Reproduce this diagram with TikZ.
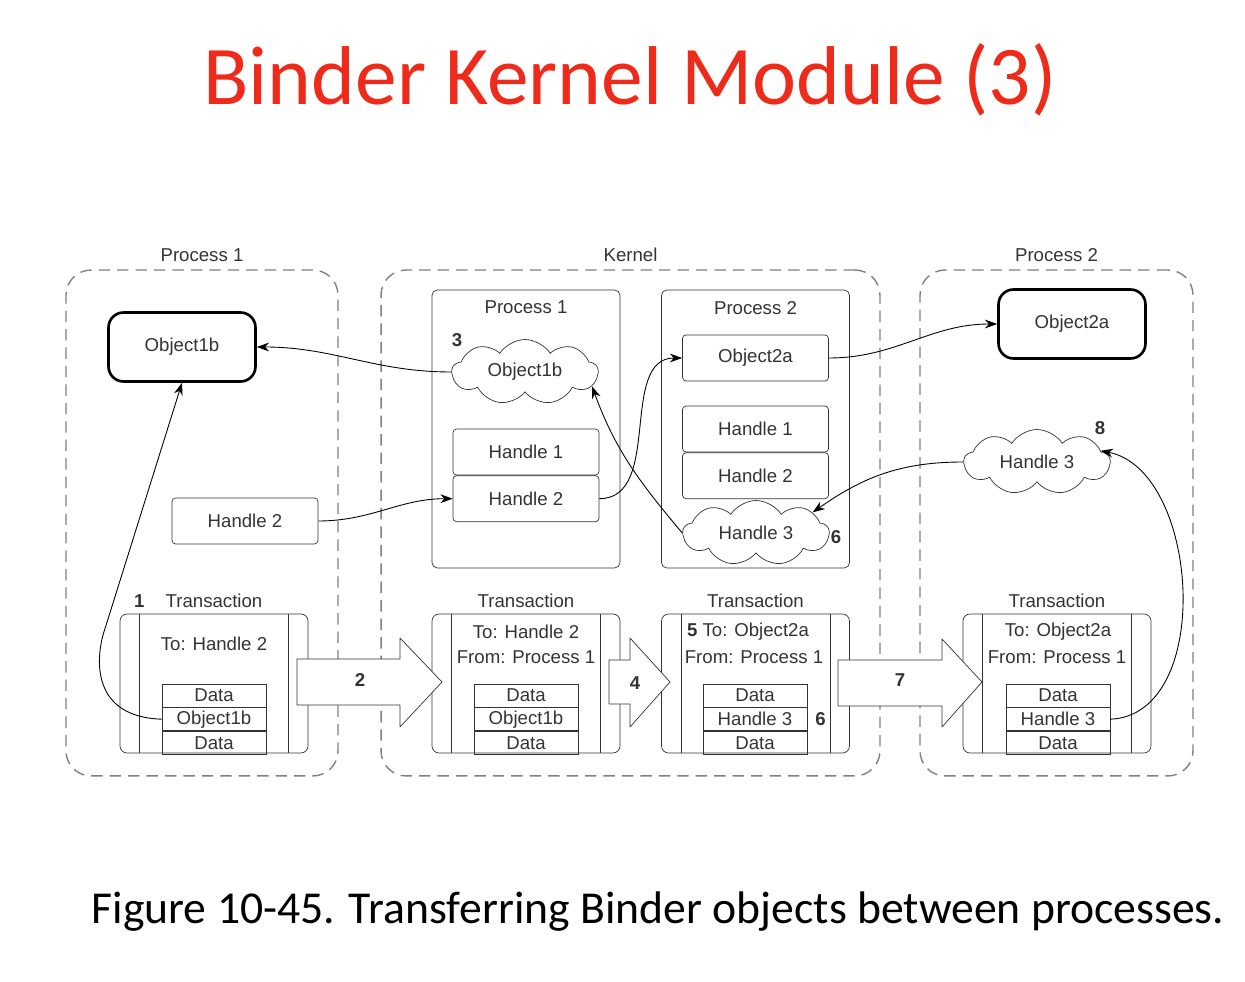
\documentclass[tikz,border=0pt]{standalone}
\usepackage{fontspec}
\setmainfont{Liberation Sans}
\newfontfamily\capfont{Carlito}
\usetikzlibrary{positioning,shapes.symbols,arrows.meta}
\definecolor{inkgray}{HTML}{333333}
\definecolor{titlered}{HTML}{EE2A1B}
\begin{document}
\begin{tikzpicture}[x=0.02cm,y=-0.02cm,>={Stealth[length=7pt,width=5pt]},
  font=\fontsize{10.6}{12}\selectfont,text=inkgray,
  dombox/.style={draw=gray,dash pattern=on 6.5pt off 4pt,rounded corners=0.5cm,line width=0.8pt,minimum height=10.12cm},
  owner/.style={draw=black,line width=1.5pt,rounded corners=0.3cm,minimum width=2.94cm,minimum height=1.38cm},
  slot/.style={draw=inkgray,rounded corners=2pt,minimum width=2.92cm,minimum height=0.92cm,inner sep=0pt},
  proc/.style={draw=inkgray,rounded corners=3pt,minimum width=3.76cm,minimum height=5.56cm},
  trans/.style={draw=inkgray,rounded corners=4pt,minimum width=3.76cm,minimum height=2.78cm,
    path picture={\draw[inkgray] ([xshift=0.39cm]path picture bounding box.north west) -- ([xshift=0.39cm]path picture bounding box.south west);
      \draw[inkgray] ([xshift=-0.39cm]path picture bounding box.north east) -- ([xshift=-0.39cm]path picture bounding box.south east);}},
  datarow/.style={draw=inkgray,minimum width=2.08cm,minimum height=0.46cm,inner sep=0pt},
  cloudbox/.style={cloud,draw=inkgray,cloud puffs=9,cloud puff arc=115,aspect=2.3,minimum width=2.92cm,minimum height=1.3cm,inner sep=0pt},
  bigarrow/.style={draw=inkgray,fill=white,line join=round},
  stepnum/.style={font=\fontsize{10.6}{12}\selectfont\bfseries},
  link/.style={->,draw=black,line width=0.5pt}]
\useasboundingbox (0,0) rectangle (1245,982);

\node[font=\capfont\fontsize{47.5}{56}\selectfont,text=titlered] (title) at (630,80) {Binder Kernel Module (3)};
\node[font=\capfont\fontsize{26}{30}\selectfont,text=black] (caption) at (658,912) {Figure 10-45. Transferring Binder objects between processes.};

\node[dombox,minimum width=5.44cm] (p1area) at (202,523) {};
\node[dombox,minimum width=9.98cm] (karea) at (630.5,523) {};
\node[dombox,minimum width=5.46cm] (p2area) at (1056.5,523) {};
\node[above=1pt of p1area] (p1lab) {Process 1};
\node[above=1pt of karea] (klab) {Kernel};
\node[above=1pt of p2area] (p2lab) {Process 2};

\node[owner] (obj1b) at (182,347) {Object1b};
\node[slot] (h2left) at (245,521) {Handle 2};

\node[proc] (kp1) at (526,429) {};
\node[proc] (kp2) at (755.5,429) {};
\node[below=3pt of kp1.north] (kp1lab) {Process 1};
\node[below=3pt of kp2.north] (kp2lab) {Process 2};
\node[cloudbox] (o1bk) at (525,372) {Object1b};
\node[stepnum] (n3) at (457,340) {3};
\node[slot] (kh1) at (526,452) {Handle 1};
\node[slot,below=0pt of kh1] (kh2) {Handle 2};
\node[slot] (ko2a) at (755.5,358) {Object2a};
\node[slot] (kh1b) at (755.5,429) {Handle 1};
\node[slot,below=0pt of kh1b] (kh2b) {Handle 2};
\node[cloudbox] (h3k) at (756,533) {Handle 3};
\node[stepnum] (n6a) at (836,537) {6};

\node[owner] (obj2a) at (1072,324) {Object2a};
\node[cloudbox] (h3p) at (1037,462) {Handle 3};
\node[stepnum] (n8) at (1100,428) {8};

\node[trans] (t1) at (214,683.5) {};
\node[trans] (t2) at (526,683.5) {};
\node[trans] (t3) at (755.5,683.5) {};
\node[trans] (t4) at (1057,683.5) {};
\node[above=0pt of t1] (t1lab) {Transaction};
\node[stepnum,left=5pt of t1lab] (n1) {1};
\node[above=0pt of t2] (t2lab) {Transaction};
\node[above=0pt of t3] (t3lab) {Transaction};
\node[above=0pt of t4] (t4lab) {Transaction};

\node (t1to) at (214,644) {To: Handle 2};
\node (t2to) at (526,632) {To: Handle 2};
\node (t2from) at (526,657) {From: Process 1};
\node (t3to) at (748,632) {\textbf{5} To: Object2a};
\node (t3from) at (754,657) {From: Process 1};
\node (t4to) at (1058,632) {To: Object2a};
\node (t4from) at (1057,657) {From: Process 1};

\node[datarow] (d1a) at (214,695.5) {Data};
\node[datarow,below=0pt of d1a] (d1b) {Object1b};
\node[datarow,below=0pt of d1b] (d1c) {Data};
\node[datarow] (d2a) at (526,695.5) {Data};
\node[datarow,below=0pt of d2a] (d2b) {Object1b};
\node[datarow,below=0pt of d2b] (d2c) {Data};
\node[datarow] (d3a) at (755,695.5) {Data};
\node[datarow,below=0pt of d3a] (d3b) {Handle 3};
\node[datarow,below=0pt of d3b] (d3c) {Data};
\node[stepnum,right=1pt of d3b] (n6b) {6};
\node[datarow] (d4a) at (1058,695.5) {Data};
\node[datarow,below=0pt of d4a] (d4b) {Handle 3};
\node[datarow,below=0pt of d4b] (d4c) {Data};

\draw[bigarrow] (297,659) -- (400,659) -- (400,638) -- (442,682) -- (400,727) -- (400,705) -- (297,705) -- cycle;
\draw[bigarrow] (609,660) -- (630,660) -- (630,638) -- (670,682) -- (630,727) -- (630,704) -- (609,704) -- cycle;
\draw[bigarrow] (838,660) -- (942,660) -- (942,639) -- (982,682) -- (942,727) -- (942,706) -- (838,706) -- cycle;
\node[stepnum] (n2) at (360,680) {2};
\node[stepnum] (n4) at (635,683) {4};
\node[stepnum] (n7) at (900,680) {7};

\draw[link] (d1b.west) .. controls (95,717) and (95,665) .. (103,635) -- (obj1b.south);
\draw[link] (o1bk.west) to[out=180,in=0] (obj1b.east);
\draw[link] (h2left.east) to[out=0,in=180] (kh2.west);
\draw[link] (kh2.east) to[out=0,in=180] (ko2a.west);
\draw[link] (h3k.west) to[out=130,in=-70] (o1bk.-12);
\draw[link] (ko2a.east) to[out=0,in=180] (obj2a.west);
\draw[link] (h3p.west) to[out=180,in=35] (h3k.20);
\draw[link] (d4b.east) .. controls (1215,715) and (1200,470) .. (h3p.10);
\end{tikzpicture}
\end{document}
